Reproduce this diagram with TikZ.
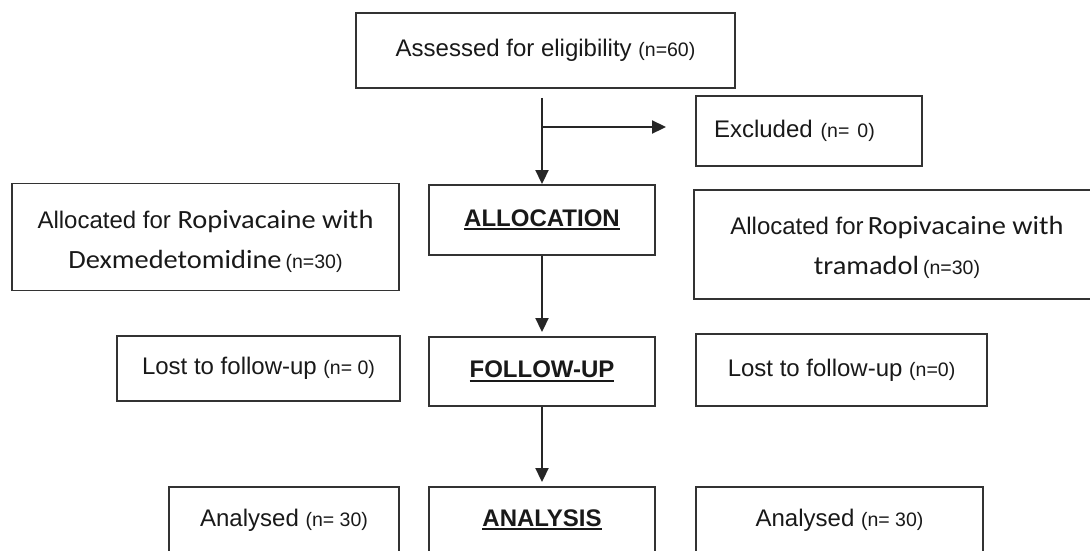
\documentclass[tikz,border=0pt]{standalone}
\usepackage{fontspec}
\setmainfont{Liberation Sans}
\newfontfamily\calib[FakeStretch=1.08]{Carlito}
\usetikzlibrary{arrows.meta}
\newcommand\ulbold[1]{\setbox0\hbox{\bfseries #1}\rlap{\rule[-4pt]{\wd0}{2pt}}\box0}
\newcommand\nsm[1]{{\fontsize{19.5}{22}\selectfont #1}}
\newcommand\cbr[1]{{\calib\fontsize{26.3}{40}\selectfont #1}}
\begin{document}
\begin{tikzpicture}[x=1pt,y=-1pt,
  box/.style={draw=black!80, line width=1.9pt, inner sep=0pt, align=center,
    font=\fontsize{24}{40}\selectfont, text=black!90},
  arr/.style={draw=black!85, line width=1.9pt, -{Triangle[length=14pt,width=13pt]}}]
\clip (0,0) rectangle (1090,550);
\fill[white] (0,0) rectangle (1090,550);
% top
\node[box, minimum width=379pt, minimum height=75pt] (top) at (545.5,50.5)
  {Assessed for eligibility \nsm{(n=60)}};
\node[box, minimum width=226pt, minimum height=70pt, text width=190pt, inner xsep=18pt, align=left] (excl) at (809,131)
  {Excluded \nsm{(n= 0)}};
% allocation row
\node[box, minimum width=387pt, minimum height=107pt] (allocL) at (205.5,237)
  {\rule{0pt}{28pt}Allocated for \cbr{Ropivacaine with}\\\cbr{Dexmedetomidine}\,\nsm{(n=30)}};
\node[box, minimum width=226pt, minimum height=70pt] (alloc) at (542,220)
  {\ulbold{ALLOCATION}};
\node[box, minimum width=406pt, minimum height=109pt] (allocR) at (897,244.5)
  {\rule{0pt}{25pt}Allocated for\,\cbr{Ropivacaine with}\\\cbr{tramadol}\,\nsm{(n=30)}};
% follow-up row
\node[box, minimum width=283pt, minimum height=65pt] (lostL) at (258.5,368.5)
  {Lost to follow-up \nsm{(n= 0)}};
\node[box, minimum width=226pt, minimum height=69pt] (follow) at (542,371.5)
  {\ulbold{FOLLOW-UP}};
\node[box, minimum width=291pt, minimum height=72pt] (lostR) at (841.5,370)
  {Lost to follow-up \nsm{(n=0)}};
% analysis row
\node[box, minimum width=230pt, minimum height=66pt] (anL) at (284,520)
  {Analysed \nsm{(n= 30)}};
\node[box, minimum width=226pt, minimum height=66pt] (ana) at (542,520)
  {\ulbold{ANALYSIS}};
\node[box, minimum width=287pt, minimum height=66pt] (anR) at (839.5,520)
  {Analysed \nsm{(n= 30)}};
% connectors
\coordinate (br) at (542,127);
\draw[arr, shorten <=9pt] (top.south -| alloc.north) -- (alloc.north);
\draw[arr, shorten >=29pt] (br) -- (br -| excl.west);
\draw[arr, shorten >=4pt] (alloc) -- (follow);
\draw[arr, shorten >=4pt] (follow) -- (ana);
\end{tikzpicture}
\end{document}
